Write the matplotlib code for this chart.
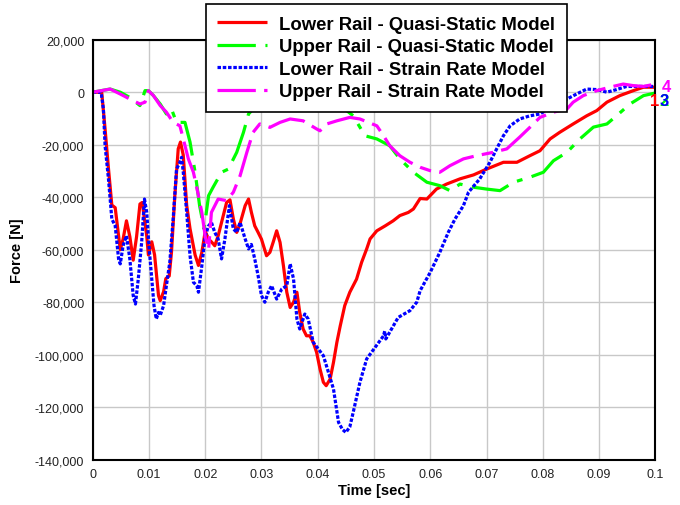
import matplotlib
matplotlib.use("Agg")
import matplotlib.pyplot as plt
from matplotlib.ticker import FuncFormatter, MultipleLocator

plt.rcParams["font.family"] = ["Liberation Sans", "DejaVu Sans"]

# ── Data (time in s, force in kN) ─────────────────────────────────────
lower_qs_t = [0, 0.0016, 0.0022, 0.0028, 0.0034, 0.004, 0.0049, 0.0054, 0.006, 0.0066,
              0.0072, 0.0078, 0.0084, 0.0088, 0.0096, 0.0099, 0.0105, 0.011, 0.0117, 0.012,
              0.0126, 0.013, 0.0136, 0.014, 0.0146, 0.0152, 0.0156, 0.0161, 0.0167, 0.0173,
              0.0182, 0.0188, 0.0194, 0.02, 0.0206, 0.0211, 0.0217, 0.0223, 0.0238, 0.0244,
              0.025, 0.0256, 0.0262, 0.0271, 0.0277, 0.0282, 0.0288, 0.0294, 0.03, 0.0309,
              0.0315, 0.0321, 0.0327, 0.0333, 0.0339, 0.0345, 0.0351, 0.0357, 0.0363, 0.0368,
              0.0374, 0.038, 0.0386, 0.0392, 0.0398, 0.0404, 0.041, 0.0415, 0.0422, 0.0428,
              0.0434, 0.044, 0.0448, 0.0457, 0.0469, 0.0478, 0.0487, 0.0493, 0.0505, 0.052,
              0.0534, 0.0546, 0.0561, 0.057, 0.0582, 0.0594, 0.0611, 0.0629, 0.0653, 0.0677,
              0.07, 0.073, 0.0754, 0.0777, 0.0795, 0.0813, 0.083, 0.0854, 0.0878, 0.0896,
              0.0914, 0.0937, 0.0961, 0.0979, 0.1]
lower_qs_f = [0, 0, -14, -29, -43, -44, -60, -56, -49, -55,
              -64, -55, -42.6, -42, -54.7, -62, -57, -62, -77.5, -79.4,
              -76, -71, -70, -61, -39.4, -21.6, -19, -24, -43, -52,
              -62, -66, -61, -53, -56, -57, -58.5, -54.7, -42, -41,
              -48.3, -53.4, -50, -43.2, -40.7, -45.7, -50.9, -53.4, -56, -62.3,
              -61, -57, -52.8, -57.2, -66.1, -76.2, -82, -80, -76.2, -83.9,
              -90.2, -92.8, -92.8, -95.3, -99.1, -105.4, -110.5, -111.8, -109.3, -102.9,
              -95.3, -89, -81.3, -76.2, -71.2, -64.8, -59.7, -55.9, -52.8, -50.9,
              -49, -47, -45.8, -44.5, -40.5, -40.7, -36.9, -35, -33, -31.5,
              -29.3, -26.7, -26.7, -24.2, -22.3, -17.8, -15.3, -12.1, -9, -7,
              -3.8, -1.3, 0.6, 1.9, 1.9]

upper_qs_t = [0, 0.0031, 0.0049, 0.0066, 0.0084, 0.0093, 0.0099, 0.0108, 0.012, 0.0131,
              0.014, 0.0149, 0.0164, 0.0173, 0.0182, 0.019, 0.0198, 0.0206, 0.0214, 0.0229,
              0.0241, 0.0256, 0.0268, 0.0277, 0.030, 0.035, 0.040, 0.044, 0.0463, 0.0484,
              0.0505, 0.0528, 0.0546, 0.057, 0.0594, 0.0617, 0.0635, 0.0653, 0.0677, 0.07,
              0.0724, 0.0748, 0.0777, 0.0801, 0.0819, 0.0843, 0.0866, 0.089, 0.0914, 0.0931,
              0.0955, 0.0979, 0.1]
upper_qs_f = [0, 1.2, 0, -2, -5.1, 0.6, 0.6, -1.3, -4.5, -8.3,
              -6.4, -11.5, -11.5, -19, -30.5, -43.2, -52.1, -39.4, -36.2, -30.5,
              -29.3, -22.9, -15.3, -8.3, -3, -2, -3, -5, -9, -16.6,
              -17.8, -20.4, -25.4, -30.5, -34.3, -35.6, -37.5, -35, -36.2, -36.9,
              -37.5, -34.3, -32.4, -30.5, -26.1, -22.9, -17.8, -13.3, -12.1, -9,
              -4.5, -1.3, -0.3]

lower_sr_t = [0, 0.0015, 0.0019, 0.0022, 0.0028, 0.0034, 0.004, 0.0046, 0.0049, 0.0054,
              0.006, 0.0066, 0.0072, 0.0076, 0.0081, 0.0087, 0.0092, 0.0096, 0.01, 0.0105,
              0.0109, 0.0113, 0.0117, 0.012, 0.0126, 0.0131, 0.0137, 0.0143, 0.0149, 0.0155,
              0.0158, 0.0161, 0.0167, 0.0173, 0.0179, 0.0185, 0.0188, 0.0194, 0.02, 0.0206,
              0.0211, 0.0217, 0.0223, 0.0229, 0.0235, 0.0243, 0.025, 0.0256, 0.0262, 0.0271,
              0.0277, 0.0282, 0.0288, 0.0294, 0.03, 0.0306, 0.0312, 0.0318, 0.0327, 0.0336,
              0.0345, 0.0351, 0.0357, 0.0363, 0.0368, 0.0377, 0.0383, 0.0392, 0.0401, 0.041,
              0.0419, 0.0428, 0.0437, 0.0444, 0.045, 0.0457, 0.0463, 0.0475, 0.0487, 0.0502,
              0.0517, 0.0519, 0.0521, 0.0543, 0.0564, 0.0576, 0.0582, 0.06, 0.0617, 0.0632,
              0.0644, 0.0659, 0.0668, 0.0688, 0.0706, 0.0718, 0.073, 0.0742, 0.0759, 0.0777,
              0.0795, 0.0819, 0.0843, 0.086, 0.0878, 0.0896, 0.0914, 0.0931, 0.0949, 0.0973,
              0.1]
lower_sr_f = [0, 0, -6.4, -20.4, -33, -48.3, -50.9, -63.5, -65.4, -58.5,
              -54.7, -63.5, -77.5, -80.7, -71.2, -57.2, -40.7, -45.7, -58.5, -71.2,
              -81.3, -86.4, -83.9, -85, -81.3, -73.7, -64.8, -48.3, -29.3, -26.7,
              -24.8, -30.5, -45.7, -62.3, -72.4, -73.7, -76.2, -66.1, -54.7, -50.9,
              -49.6, -53.4, -55.9, -63.5, -55.9, -43.2, -52.1, -53.4, -49.6, -55.9,
              -59.7, -58, -63.5, -69.9, -77.5, -80, -76.2, -73.7, -78.8, -75,
              -73.7, -65.4, -71.2, -86.4, -90.2, -84.5, -86.4, -95.3, -97.8, -100.4,
              -106.7, -113.1, -125.8, -128.5, -129.6, -127.5, -122, -110.5, -101.6, -97.2,
              -92.8, -91, -94, -85.8, -83.2, -80, -75.6, -68.6, -61, -53.4,
              -48.3, -43.2, -38.1, -33, -26.7, -21.6, -16.6, -12.8, -10.2, -9,
              -8.3, -5.1, -2.6, -0.7, 1.2, 1.0, 0, 1.0, 2.2, 2.2,
              2.2]

upper_sr_t = [0, 0.0031, 0.0049, 0.0066, 0.0084, 0.0093, 0.0099, 0.0108, 0.012, 0.0131,
              0.0143, 0.0155, 0.0161, 0.017, 0.0179, 0.0188, 0.0194, 0.02, 0.0206, 0.0211,
              0.0223, 0.0238, 0.025, 0.0262, 0.0274, 0.0285, 0.0297, 0.0315, 0.0333, 0.0351,
              0.0374, 0.0398, 0.0404, 0.0416, 0.0434, 0.0457, 0.0475, 0.049, 0.0505, 0.0517,
              0.0528, 0.0546, 0.0564, 0.0582, 0.06, 0.0617, 0.0635, 0.0659, 0.0682, 0.0712,
              0.0736, 0.0759, 0.0777, 0.0795, 0.0819, 0.0843, 0.0854, 0.0872, 0.0896, 0.0919,
              0.0943, 0.0961, 0.0979, 0.1]
upper_sr_f = [0, 1.2, -0.7, -2.6, -4.5, -3.8, 0.6, -1.3, -5.1, -7.6,
              -11.5, -12.8, -17.8, -25.4, -30.5, -39.4, -45.8, -55, -60, -45.8,
              -40.7, -41.3, -38.1, -31.8, -22.9, -15.3, -12.1, -13.4, -11.5, -10.2,
              -10.9, -14.0, -14.7, -12.1, -10.9, -9.6, -10.2, -11.5, -12.8, -16.6,
              -20.4, -24.2, -26.7, -28.6, -29.9, -30.5, -28, -25.4, -24.2, -22.9,
              -21.6, -17.1, -13.4, -9.6, -7.6, -6.4, -3.8, -1.3, 0.6, 1.9,
              3.1, 2.5, 2.2, 3.1]

labels = ["Lower Rail - Quasi-Static Model", "Upper Rail - Quasi-Static Model",
          "Lower Rail - Strain Rate Model", "Upper Rail - Strain Rate Model"]
end_tags = ["1", "2", "3", "4"]
colors = ["#ff0000", "#00ff00", "#0000ff", "#ff00ff"]

series = [(lower_qs_t, lower_qs_f), (upper_qs_t, upper_qs_f),
          (lower_sr_t, lower_sr_f), (upper_sr_t, upper_sr_f)]
styles = ["-", (0, (12, 3.0, 1.8, 3.0)), (0, (1.1, 0.55)), (0, (12, 2.6, 3.6, 2.6))]

# ── Figure ────────────────────────────────────────────────────────────
fig = plt.figure(figsize=(6.8, 5.06), dpi=100)
ax = fig.add_axes([92.7 / 680, 1 - 460.7 / 506, 562.6 / 680, 420 / 506])

for (t, f), lab, col, ls in zip(series, labels, colors, styles):
    ax.plot(t, [v * 1000 for v in f], color=col, linestyle=ls, linewidth=2.3,
            label=lab, solid_capstyle="butt", dash_capstyle="butt")

# small curve tags at the right edge (green "2" sits under the blue "3")
tag_pos = [(-3.5, -9.5), (3.2, -9.5), (3.2, -9.5), (4.4, 1.1)]
for tag, col, off in zip(end_tags, colors, tag_pos):
    ax.annotate(tag, xy=(0.1, 0), xytext=off, textcoords="offset points",
                color=col, fontsize=12, fontweight="bold", ha="left", va="baseline",
                annotation_clip=False)

ax.set_xlim(0, 0.1)
ax.set_ylim(-140000, 20000)
ax.xaxis.set_major_locator(MultipleLocator(0.01))
ax.yaxis.set_major_locator(MultipleLocator(20000))
ax.xaxis.set_major_formatter(FuncFormatter(lambda x, _: f"{x:.2f}".rstrip("0").rstrip(".") if x else "0"))
ax.yaxis.set_major_formatter(FuncFormatter(lambda y, _: f"{y:,.0f}"))
ax.tick_params(length=0, labelsize=9, pad=6, colors="#222222")
ax.grid(color="#c8c8c8", linewidth=1)
ax.set_axisbelow(True)
for sp in ax.spines.values():
    sp.set_linewidth(1.5)
    sp.set_color("black")

ax.set_xlabel("Time [sec]", fontsize=10.5, fontweight="bold", labelpad=2)
ax.set_ylabel("Force [N]", fontsize=10.5, fontweight="bold", labelpad=8)

leg = ax.legend(loc="upper left", bbox_to_anchor=(206 / 680, 1 - 5.3 / 506),
                bbox_transform=fig.transFigure, prop={"weight": "bold", "size": 13.3},
                handlelength=2.7, handletextpad=0.65, labelspacing=0.3,
                borderpad=0.62, borderaxespad=0, fancybox=False, framealpha=1,
                edgecolor="black")
leg.get_frame().set_linewidth(1.2)

fig.savefig("out.png", dpi=100)
